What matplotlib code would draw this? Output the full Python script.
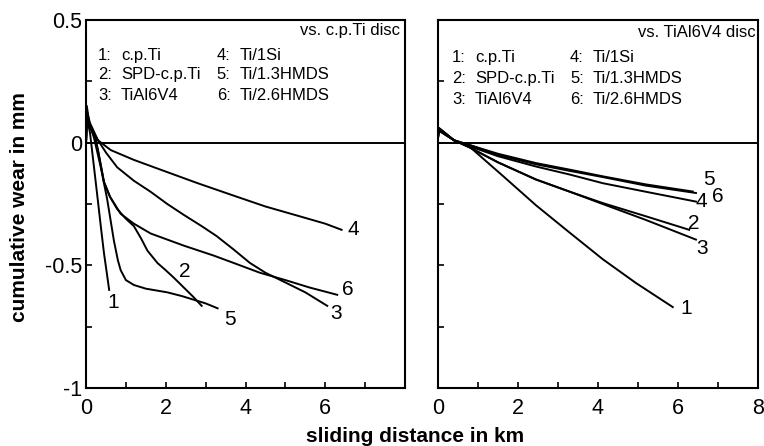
import matplotlib
matplotlib.use("Agg")
import matplotlib.pyplot as plt

plt.rcParams['font.family'] = ['Liberation Sans', 'DejaVu Sans']

# --- data (sliding distance in km, cumulative wear in mm) ---
# left panel: vs. c.p.Ti disc
l1_x = [0, 0.02, 0.05, 0.1, 0.2, 0.3, 0.37, 0.45, 0.52, 0.58]
l1_y = [0.0, 0.14, 0.08, 0.04, -0.10, -0.24, -0.34, -0.45, -0.53, -0.60]
l2_x = [0, 0.02, 0.08, 0.2, 0.3, 0.45, 0.6, 0.78, 1.0, 1.2, 1.38, 1.54, 1.79, 2.0, 2.2, 2.45, 2.7, 2.9]
l2_y = [0.0, 0.12, 0.07, 0.03, -0.03, -0.16, -0.22, -0.27, -0.31, -0.34, -0.39, -0.44, -0.49, -0.52, -0.55, -0.59, -0.63, -0.665]
l3_x = [0, 0.02, 0.1, 0.3, 0.5, 0.78, 1.2, 1.62, 2.04, 2.46, 2.9, 3.27, 3.7, 4.11, 4.5, 4.94, 5.5, 6.05]
l3_y = [0.0, 0.13, 0.08, 0.01, -0.04, -0.10, -0.155, -0.20, -0.25, -0.295, -0.34, -0.38, -0.435, -0.49, -0.53, -0.565, -0.61, -0.665]
l4_x = [0, 0.02, 0.1, 0.3, 0.62, 1.2, 2.04, 2.8, 3.69, 4.5, 5.36, 6.0, 6.41]
l4_y = [0.0, 0.10, 0.06, 0.01, -0.03, -0.07, -0.12, -0.165, -0.215, -0.26, -0.30, -0.33, -0.355]
l5_x = [0, 0.02, 0.08, 0.2, 0.37, 0.53, 0.7, 0.8, 0.87, 1.0, 1.2, 1.5, 2.04, 2.4, 2.7, 3.0, 3.3]
l5_y = [0.0, 0.15, 0.08, 0.02, -0.10, -0.23, -0.40, -0.48, -0.52, -0.56, -0.58, -0.595, -0.61, -0.625, -0.64, -0.655, -0.675]
l6_x = [0, 0.02, 0.1, 0.25, 0.45, 0.6, 0.87, 1.2, 1.62, 2.46, 3.2, 3.7, 4.36, 5.0, 5.6, 6.3]
l6_y = [0.0, 0.11, 0.07, 0.01, -0.16, -0.22, -0.29, -0.33, -0.37, -0.42, -0.46, -0.49, -0.53, -0.56, -0.59, -0.62]

# right panel: vs. TiAl6V4 disc
r1_x = [0, 0.02, 0.4, 0.78, 1.62, 2.45, 3.28, 4.12, 4.95, 5.87]
r1_y = [0.02, 0.06, 0.01, -0.015, -0.135, -0.255, -0.365, -0.475, -0.572, -0.67]
r2_x = [0, 0.02, 0.4, 0.8, 1.5, 2.45, 3.3, 4.12, 5.2, 6.28]
r2_y = [0.02, 0.06, 0.01, -0.02, -0.08, -0.15, -0.20, -0.246, -0.30, -0.355]
r3_x = [0, 0.02, 0.4, 0.8, 1.5, 2.45, 3.3, 4.12, 5.2, 6.45]
r3_y = [0.02, 0.05, 0.01, -0.02, -0.08, -0.15, -0.20, -0.25, -0.315, -0.395]
r4_x = [0, 0.02, 0.4, 0.8, 1.5, 2.45, 3.3, 4.12, 5.2, 6.45]
r4_y = [0.02, 0.05, 0.01, -0.015, -0.055, -0.097, -0.13, -0.165, -0.20, -0.24]
r5_x = [0, 0.02, 0.4, 0.8, 1.5, 2.45, 3.3, 4.12, 5.2, 6.37]
r5_y = [0.02, 0.06, 0.01, -0.01, -0.045, -0.083, -0.11, -0.137, -0.17, -0.199]
r6_x = [0, 0.02, 0.4, 0.8, 1.5, 2.45, 3.3, 4.12, 5.2, 6.45]
r6_y = [0.02, 0.05, 0.01, -0.01, -0.05, -0.088, -0.115, -0.14, -0.175, -0.205]

materials = ['c.p.Ti', 'SPD-c.p.Ti', 'TiAl6V4', 'Ti/1Si', 'Ti/1.3HMDS', 'Ti/2.6HMDS']
curve_ids = ['1', '2', '3', '4', '5', '6']

# where the curve numbers sit (data coords)
left_lab_x = [0.68, 2.48, 6.28, 6.7, 3.6, 6.57]
left_lab_y = [-0.65, -0.525, -0.695, -0.355, -0.72, -0.60]
right_lab_x = [6.2, 6.4, 6.6, 6.58, 6.78, 7.0]
right_lab_y = [-0.675, -0.33, -0.43, -0.24, -0.15, -0.22]

left_curves = [(l1_x, l1_y), (l2_x, l2_y), (l3_x, l3_y), (l4_x, l4_y), (l5_x, l5_y), (l6_x, l6_y)]
right_curves = [(r1_x, r1_y), (r2_x, r2_y), (r3_x, r3_y), (r4_x, r4_y), (r5_x, r5_y), (r6_x, r6_y)]

fig = plt.figure(figsize=(7.64, 4.46), dpi=100)
ax1 = fig.add_axes([0.1126, 0.130, 0.4175, 0.825])
ax2 = fig.add_axes([0.5733, 0.130, 0.4188, 0.825])


def style_axis(ax, show_ylabels, xlabels):
    ax.set_xlim(0, 8)
    ax.set_ylim(-1, 0.5)
    ax.axhline(0, color='black', lw=1.4)
    for sp in ax.spines.values():
        sp.set_linewidth(1.5)
    ax.set_xticks(range(0, 9))
    ax.set_xticklabels(xlabels)
    ax.set_yticks([-1, -0.75, -0.5, -0.25, 0, 0.25, 0.5])
    if show_ylabels:
        ax.set_yticklabels(['-1', '', '-0.5', '', '0', '', '0.5'])
    else:
        ax.set_yticklabels([])
    ax.tick_params(direction='in', length=4, width=1.2, labelsize=15.5)
    ax.tick_params(axis='x', pad=7)
    ax.tick_params(axis='y', pad=3)


style_axis(ax1, True, ['0', '', '2', '', '4', '', '6', '', ''])
style_axis(ax2, False, ['0', '', '2', '', '4', '', '6', '', '8'])

for ax, curves, lx, ly in [(ax1, left_curves, left_lab_x, left_lab_y),
                           (ax2, right_curves, right_lab_x, right_lab_y)]:
    for (x, y), cid, tx, ty in zip(curves, curve_ids, lx, ly):
        ax.plot(x, y, color='black', lw=1.4)
        ax.text(tx, ty, cid, fontsize=15, ha='center', va='center')

# in-plot legends
ax1.text(0.984, 0.973, 'vs. c.p.Ti disc', transform=ax1.transAxes, ha='right', va='center', fontsize=12)
ax2.text(0.994, 0.965, 'vs. TiAl6V4 disc', transform=ax2.transAxes, ha='right', va='center', fontsize=12)

left_rows = [0.905, 0.851, 0.796]
right_rows = [0.897, 0.842, 0.785]
for ax, rows, cols in [(ax1, left_rows, [0.037, 0.11, 0.41, 0.483]),
                       (ax2, right_rows, [0.044, 0.116, 0.4125, 0.484])]:
    for i in range(3):
        ax.text(cols[0], rows[i], curve_ids[i] + ':', transform=ax.transAxes, va='center', fontsize=12)
        ax.text(cols[1], rows[i], materials[i], transform=ax.transAxes, va='center', fontsize=12)
        ax.text(cols[2], rows[i], curve_ids[i + 3] + ':', transform=ax.transAxes, va='center', fontsize=12)
        ax.text(cols[3], rows[i], materials[i + 3], transform=ax.transAxes, va='center', fontsize=12)

fig.text(0.543, 0.022, 'sliding distance in km', ha='center', va='center', fontsize=15, fontweight='bold')
fig.text(0.026, 0.535, 'cumulative wear in mm', ha='center', va='center', rotation=90,
         fontsize=15, fontweight='bold')

fig.savefig('out.png', dpi=100)
